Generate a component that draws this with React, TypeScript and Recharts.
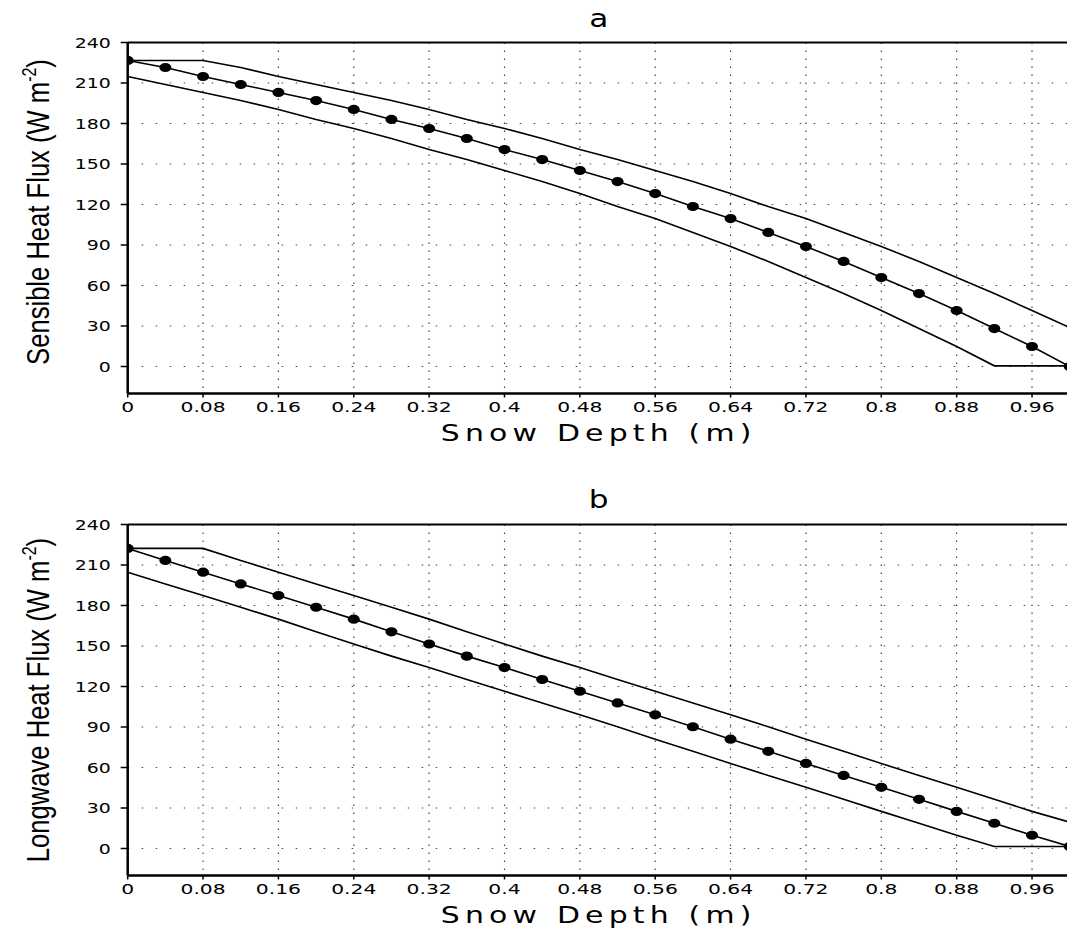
import React from "react";
import { LineChart, Line, XAxis, YAxis, CartesianGrid, ReferenceLine, Label } from "recharts";

const depths = [0, 0.04, 0.08, 0.12, 0.16, 0.2, 0.24, 0.28, 0.32, 0.36, 0.4, 0.44, 0.48, 0.52, 0.56, 0.6, 0.64, 0.68, 0.72, 0.76, 0.8, 0.84, 0.88, 0.92, 0.96, 1.0];

const sensibleMid = [226.7, 221.5, 214.8, 208.9, 203, 197, 190.4, 183, 176.3, 168.9, 160.7, 153.3, 145.2, 137, 128.1, 118.5, 109.6, 99.3, 88.9, 77.8, 65.9, 54, 41.5, 28.1, 14.8, 0];
const sensibleUpper = [226.7, 226.7, 226.7, 221.5, 214.8, 208.9, 203, 197, 190.4, 183, 176.3, 168.9, 160.7, 153.3, 145.2, 137, 128.1, 118.5, 109.6, 99.3, 88.9, 77.8, 65.9, 54, 41.5, 28.8];
const sensibleLower = [214.8, 208.9, 203, 197, 190.4, 183, 176.3, 168.9, 160.7, 153.3, 145.2, 137, 128.1, 118.5, 109.6, 99.3, 88.9, 77.8, 65.9, 54, 41.5, 28.1, 14.8, 0.5, 0.5, 0.5];

const longwaveMid = [222.3, 213.4, 204.7, 196, 187.4, 178.7, 169.9, 160.5, 151.5, 142.5, 134, 125.2, 116.5, 107.8, 99, 90.2, 81, 72, 63, 54.1, 45.3, 36.4, 27.5, 18.7, 9.8, 1.5];
const longwaveUpper = [222.3, 222.3, 222.3, 213.4, 204.7, 196, 187.4, 178.7, 169.9, 160.5, 151.5, 142.5, 134, 125.2, 116.5, 107.8, 99, 90.2, 81, 72, 63, 54.1, 45.3, 36.4, 27.5, 19.5];
const longwaveLower = [204.7, 196, 187.4, 178.7, 169.9, 160.5, 151.5, 142.5, 134, 125.2, 116.5, 107.8, 99, 90.2, 81, 72, 63, 54.1, 45.3, 36.4, 27.5, 18.7, 9.8, 1.5, 1.5, 1.5];

const xTicks = [0, 0.08, 0.16, 0.24, 0.32, 0.4, 0.48, 0.56, 0.64, 0.72, 0.8, 0.88, 0.96];
const yTicks = [0, 30, 60, 90, 120, 150, 180, 210, 240];

const xTitle = "Snow Depth (m)";
const panels = [
  { title: "a", yTitle: "Sensible Heat Flux (W m", mid: sensibleMid, up: sensibleUpper, lo: sensibleLower, top: 0, labelDy: -6 },
  { title: "b", yTitle: "Longwave Heat Flux (W m", mid: longwaveMid, up: longwaveUpper, lo: longwaveLower, top: 481.8, labelDy: 0 },
];

const TICK_FONT = "DejaVu Sans";

const XTick = (props: any) => {
  const { x, y, payload } = props;
  return (
    <text transform={`translate(${x},${y}) scale(1.45,1)`} textAnchor="middle" dy="0.72em" fontFamily={TICK_FONT} fontSize={14} fill="#000">
      {String(payload.value)}
    </text>
  );
};

const YTick = (props: any) => {
  const { x, y, payload } = props;
  return (
    <text transform={`translate(${x},${y}) scale(1.35,1)`} textAnchor="end" dy="0.36em" fontFamily={TICK_FONT} fontSize={14} fill="#000">
      {String(payload.value)}
    </text>
  );
};

const MidDot = (props: any) => {
  const { cx, cy, index } = props;
  if (cx == null || cy == null) return <g key={`d${index}`} />;
  return <ellipse key={`d${index}`} cx={cx} cy={cy} rx={6} ry={4.6} fill="#000" />;
};

const Panel = ({ p }: { p: any }) => {
  const data = depths.map((d, i) => ({ x: d, mid: p.mid[i], up: p.up[i], lo: p.lo[i] }));
  return (
    <div style={{ position: "absolute", left: 0, top: p.top, width: 1090, height: 450 }}>
      <LineChart width={1090} height={450} data={data} margin={{ top: 42.5, right: 20.3, bottom: 26.5, left: 0 }}>
        <CartesianGrid horizontal={true} vertical={false} stroke="#444" strokeWidth={1.2} strokeDasharray="1.5 12.5" />
        <CartesianGrid horizontal={false} vertical={true} stroke="#444" strokeWidth={1.2} strokeDasharray="1.5 6.5" />
        <XAxis
          type="number"
          dataKey="x"
          domain={[0, 1]}
          ticks={xTicks}
          allowDataOverflow
          height={30}
          axisLine={{ stroke: "#000", strokeWidth: 2.5 }}
          tickLine={{ stroke: "#000", strokeWidth: 1.5 }}
          tickSize={4}
          tickMargin={4}
          tick={<XTick />}
          interval={0}
        >
          <Label
            content={() => (
              <text x={598.7} y={441.5} textAnchor="middle" fontFamily={TICK_FONT} fontSize={23} fill="#000" transform="translate(598.7,0) scale(1.3,1) translate(-598.7,0)" letterSpacing={4}>
                {xTitle}
              </text>
            )}
          />
        </XAxis>
        <YAxis
          type="number"
          domain={[-20, 240]}
          ticks={yTicks}
          allowDataOverflow
          width={127.7}
          axisLine={{ stroke: "#000", strokeWidth: 2.5 }}
          tickLine={{ stroke: "#000", strokeWidth: 1.5 }}
          tickSize={7}
          tickMargin={10}
          tick={<YTick />}
          interval={0}
        >
          <Label
            content={() => (
              <text transform={`translate(49,${218 + p.labelDy}) rotate(-90) scale(0.8,1)`} textAnchor="middle" fontFamily="Liberation Sans, Arial, sans-serif" fontSize={32} fill="#000">
                {p.yTitle}
                <tspan dy={-13} fontSize={20}>-2</tspan>
                <tspan dy={13} fontSize={32}>)</tspan>
              </text>
            )}
          />
        </YAxis>
        <ReferenceLine y={240} stroke="#000" strokeWidth={2} />
        <Line type="linear" dataKey="up" stroke="#000" strokeWidth={1.6} dot={false} isAnimationActive={false} />
        <Line type="linear" dataKey="lo" stroke="#000" strokeWidth={1.6} dot={false} isAnimationActive={false} />
        <Line type="linear" dataKey="mid" stroke="#000" strokeWidth={1.6} dot={<MidDot />} isAnimationActive={false} />
      </LineChart>
    </div>
  );
};

export default function App() {
  return (
    <div style={{ position: "absolute", left: 0, top: 0, width: 1067, height: 932, overflow: "hidden", background: "#fff" }}>
      {panels.map((p) => (
        <Panel key={p.title} p={p} />
      ))}
      <svg width={1067} height={932} style={{ position: "absolute", left: 0, top: 0, pointerEvents: "none" }}>
        {panels.map((p) => (
          <text key={p.title} transform={`translate(598.7,${p.top + 26.5}) scale(1.3,1)`} textAnchor="middle" fontFamily={TICK_FONT} fontSize={24} fill="#000">
            {p.title}
          </text>
        ))}
      </svg>
    </div>
  );
}
